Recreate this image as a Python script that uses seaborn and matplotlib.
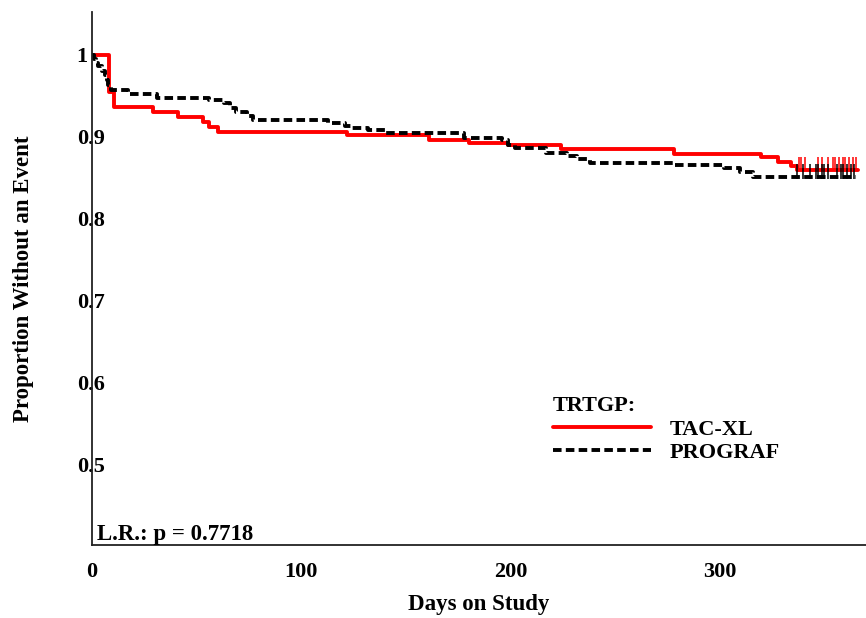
import numpy as np
import pandas as pd
import matplotlib
matplotlib.use("Agg")
import matplotlib.pyplot as plt
from matplotlib.lines import Line2D
import seaborn as sns

# Kaplan-Meier step values (time in days, proportion without an event)
tac_times = [0, 8, 10.5, 29, 41, 53, 56, 60, 122, 161, 180, 199, 224, 278, 320, 328, 334, 337, 366]
tac_surv = [1.0, 0.955, 0.936, 0.930, 0.924, 0.918, 0.912, 0.906, 0.902, 0.896, 0.893, 0.890,
            0.885, 0.879, 0.876, 0.870, 0.865, 0.860, 0.860]
tac_censor = [338, 339, 341, 347, 349, 352, 354, 355, 357, 359, 360, 362, 364, 365]

pro_times = [0, 1, 2, 3, 5, 6, 7, 7.5, 9, 17, 31, 56, 63, 66, 69, 74, 77, 113, 121, 124, 132, 140,
             178, 196, 199, 202, 217, 227, 232, 238, 278, 302, 310, 316, 365]
pro_surv = [1.0, 0.995, 0.990, 0.986, 0.981, 0.976, 0.970, 0.963, 0.957, 0.952, 0.948, 0.945,
            0.941, 0.935, 0.930, 0.925, 0.921, 0.917, 0.913, 0.911, 0.908, 0.905, 0.899, 0.896,
            0.890, 0.886, 0.880, 0.877, 0.873, 0.868, 0.866, 0.862, 0.857, 0.851, 0.851]
pro_censor = [337, 340, 343, 346, 347, 349, 350, 352, 356, 358, 359, 361, 363, 364.5]

groups = ["TAC-XL", "PROGRAF"]
colors = {"TAC-XL": "#ff0000", "PROGRAF": "#000000"}
dash_map = {"TAC-XL": "", "PROGRAF": (2.2, 1.1)}

y_ticks = [0.5, 0.6, 0.7, 0.8, 0.9, 1.0]
y_ticklabels = ["0.5", "0.6", "0.7", "0.8", "0.9", "1"]
x_ticks = [0, 100, 200, 300]
p_text = "L.R.: p = 0.7718"

df = pd.concat([
    pd.DataFrame({"day": tac_times, "surv": tac_surv, "group": "TAC-XL"}),
    pd.DataFrame({"day": pro_times, "surv": pro_surv, "group": "PROGRAF"}),
], ignore_index=True)

sns.set_style("white")
plt.rcParams["font.family"] = ["Liberation Serif", "DejaVu Serif"]
plt.rcParams["font.weight"] = "bold"
plt.rcParams["text.color"] = "black"
plt.rcParams["axes.labelcolor"] = "black"
plt.rcParams["xtick.color"] = "black"
plt.rcParams["ytick.color"] = "black"

fig = plt.figure(figsize=(8.66, 6.18), dpi=100)
ax = fig.add_axes([92 / 866, 73 / 618, 774 / 866, 533 / 618])

lw = 2.8
sns.lineplot(data=df, x="day", y="surv", hue="group", style="group",
             palette=colors, dashes=dash_map, hue_order=groups, style_order=groups,
             estimator=None, drawstyle="steps-post", linewidth=lw, legend=False, ax=ax)


def surv_at(times, surv, t):
    idx = np.searchsorted(np.asarray(times), np.asarray(t), side="right") - 1
    return np.asarray(surv)[idx]


# censoring marks
for g, times, surv, cens in [("TAC-XL", tac_times, tac_surv, tac_censor),
                             ("PROGRAF", pro_times, pro_surv, pro_censor)]:
    base = surv_at(times, surv, cens)
    ax.vlines(cens, base - 0.002, base + 0.016, colors=colors[g], linewidth=1.1)

ax.set_xlim(0, 370)
ax.set_ylim(0.4024, 1.0524)

ax.set_xticks(x_ticks)
ax.set_xticklabels([str(v) for v in x_ticks])
ax.set_yticks(y_ticks)
ax.set_yticklabels(y_ticklabels)

ax.tick_params(axis="x", direction="in", length=6, width=1.1, pad=12, labelsize=16,
               color="#222222", labelcolor="black")
ax.tick_params(axis="y", length=0, pad=11, labelsize=16, labelcolor="black")
for lab in ax.get_yticklabels():
    lab.set_horizontalalignment("left")
    lab.set_fontweight("bold")
for lab in ax.get_xticklabels():
    lab.set_fontweight("bold")

for side in ["top", "right"]:
    ax.spines[side].set_visible(False)
for side in ["left", "bottom"]:
    ax.spines[side].set_color("#222222")
    ax.spines[side].set_linewidth(1.3)

ax.set_xlabel("Days on Study", fontsize=16.5, fontweight="bold", color="black")
ax.set_ylabel("Proportion Without an Event", fontsize=16.5, fontweight="bold", color="black")
ax.xaxis.set_label_coords(0.5, -0.092)
ax.yaxis.set_label_coords(-0.075, 0.5)

ax.text(0.0065, 0.0094, p_text, transform=ax.transAxes, fontsize=16.5,
        fontweight="bold", ha="left", va="baseline", color="black")

handles = [Line2D([], [], color=colors["TAC-XL"], lw=lw),
           Line2D([], [], color=colors["PROGRAF"], lw=lw, dashes=dash_map["PROGRAF"])]
leg = ax.legend(handles, groups, title="TRTGP:", loc="upper left",
                bbox_to_anchor=(0.5956, 0.279), frameon=False, borderpad=0,
                borderaxespad=0, handlelength=4.4, handletextpad=0.85,
                labelspacing=0.12, alignment="left",
                prop={"size": 16, "weight": "bold"},
                title_fontproperties={"size": 16, "weight": "bold"})
for t in leg.get_texts():
    t.set_color("black")
leg.get_title().set_color("black")

fig.savefig("out.png", dpi=100, facecolor="white")
